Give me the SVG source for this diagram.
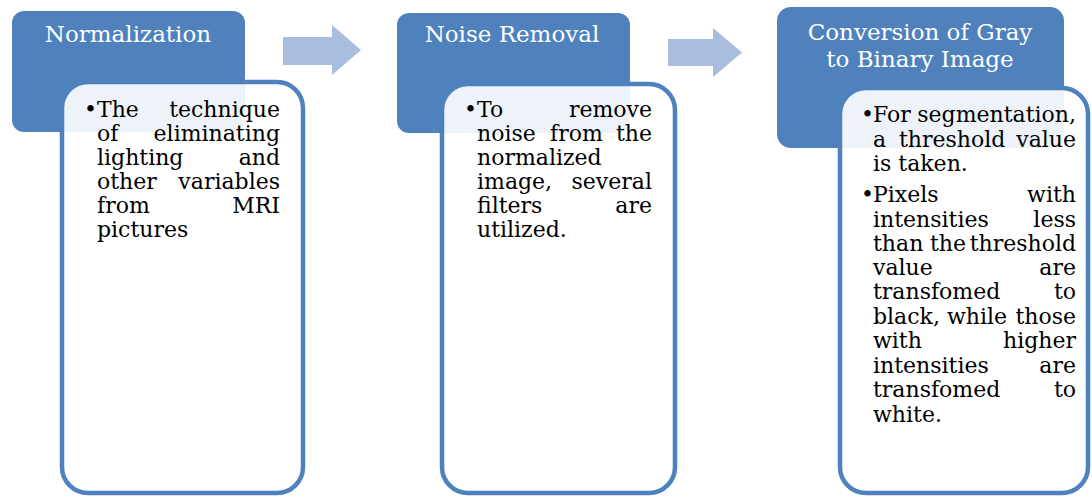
<svg xmlns="http://www.w3.org/2000/svg" width="1092" height="496" viewBox="0 0 1092 496">
<style>
.hdr{fill:#4f81bd}
.card{fill:#ffffff;fill-opacity:0.9;stroke:#4f81bd;stroke-width:4.5}
.arrow{fill:#a9bedf}
.ht{font-family:"DejaVu Serif","Liberation Serif",serif;font-size:23px;fill:#ffffff;text-anchor:middle}
.bt{font-family:"DejaVu Serif","Liberation Serif",serif;font-size:22px;fill:#000000}
.e{text-anchor:end}
</style>
<rect width="1092" height="496" fill="#ffffff"/>
<g id="connectors">
<path class="arrow" d="M283,37 H332 V25 L361,50 L332,75 V65 H283 Z"/>
<path class="arrow" d="M668,39 H713 V28 L742,52.5 L713,77 V66 H668 Z"/>
</g>
<g id="node-normalization">
<rect class="hdr" x="12" y="11" width="233" height="121" rx="12"/>
<text class="ht" x="128" y="42">Normalization</text>
<rect class="card" x="62" y="82" width="241" height="411" rx="26"/>
<text class="bt" x="84" y="117">•</text>
<text class="bt" x="97" y="117">The</text><text class="bt e" x="280" y="117">technique</text>
<text class="bt" x="97" y="141">of</text><text class="bt e" x="280" y="141">eliminating</text>
<text class="bt" x="97" y="165">lighting</text><text class="bt e" x="280" y="165">and</text>
<text class="bt" x="97" y="189">other</text><text class="bt e" x="280" y="189">variables</text>
<text class="bt" x="97" y="213">from</text><text class="bt e" x="280" y="213">MRI</text>
<text class="bt" x="97" y="237">pictures</text>
</g>
<g id="node-noise-removal">
<rect class="hdr" x="397" y="13" width="233" height="120" rx="12"/>
<text class="ht" x="512" y="42">Noise Removal</text>
<rect class="card" x="442" y="84" width="233" height="409" rx="26"/>
<text class="bt" x="464" y="117">•</text>
<text class="bt" x="477" y="117">To</text><text class="bt e" x="652" y="117">remove</text>
<text class="bt" x="477" y="141">noise</text><text class="bt" x="550" y="141">from</text><text class="bt e" x="652" y="141">the</text>
<text class="bt" x="477" y="165">normalized</text>
<text class="bt" x="477" y="189">image,</text><text class="bt e" x="652" y="189">several</text>
<text class="bt" x="477" y="213">filters</text><text class="bt e" x="652" y="213">are</text>
<text class="bt" x="477" y="237">utilized.</text>
</g>
<g id="node-conversion">
<rect class="hdr" x="777" y="7" width="287" height="141" rx="14"/>
<text class="ht" x="920" y="40">Conversion of Gray</text>
<text class="ht" x="920" y="67">to  Binary Image</text>
<rect class="card" x="840" y="88" width="248" height="405" rx="26"/>
<text class="bt" x="861" y="122">•</text>
<text class="bt" x="873" y="122">For</text><text class="bt e" x="1076" y="122">segmentation,</text>
<text class="bt" x="873" y="147">a</text><text class="bt" x="899" y="147">threshold</text><text class="bt e" x="1076" y="147">value</text>
<text class="bt" x="873" y="171">is taken.</text>
<text class="bt" x="861" y="202">•</text>
<text class="bt" x="873" y="202">Pixels</text><text class="bt e" x="1076" y="202">with</text>
<text class="bt" x="873" y="227">intensities</text><text class="bt e" x="1076" y="227">less</text>
<text class="bt" x="873" y="251">than</text><text class="bt" x="930" y="251">the</text><text class="bt e" x="1076" y="251">threshold</text>
<text class="bt" x="873" y="275">value</text><text class="bt e" x="1076" y="275">are</text>
<text class="bt" x="873" y="299">transfomed</text><text class="bt e" x="1076" y="299">to</text>
<text class="bt" x="873" y="324">black,</text><text class="bt" x="947" y="324">while</text><text class="bt e" x="1076" y="324">those</text>
<text class="bt" x="873" y="348">with</text><text class="bt e" x="1076" y="348">higher</text>
<text class="bt" x="873" y="373">intensities</text><text class="bt e" x="1076" y="373">are</text>
<text class="bt" x="873" y="397">transfomed</text><text class="bt e" x="1076" y="397">to</text>
<text class="bt" x="873" y="422">white.</text>
</g>
</svg>
